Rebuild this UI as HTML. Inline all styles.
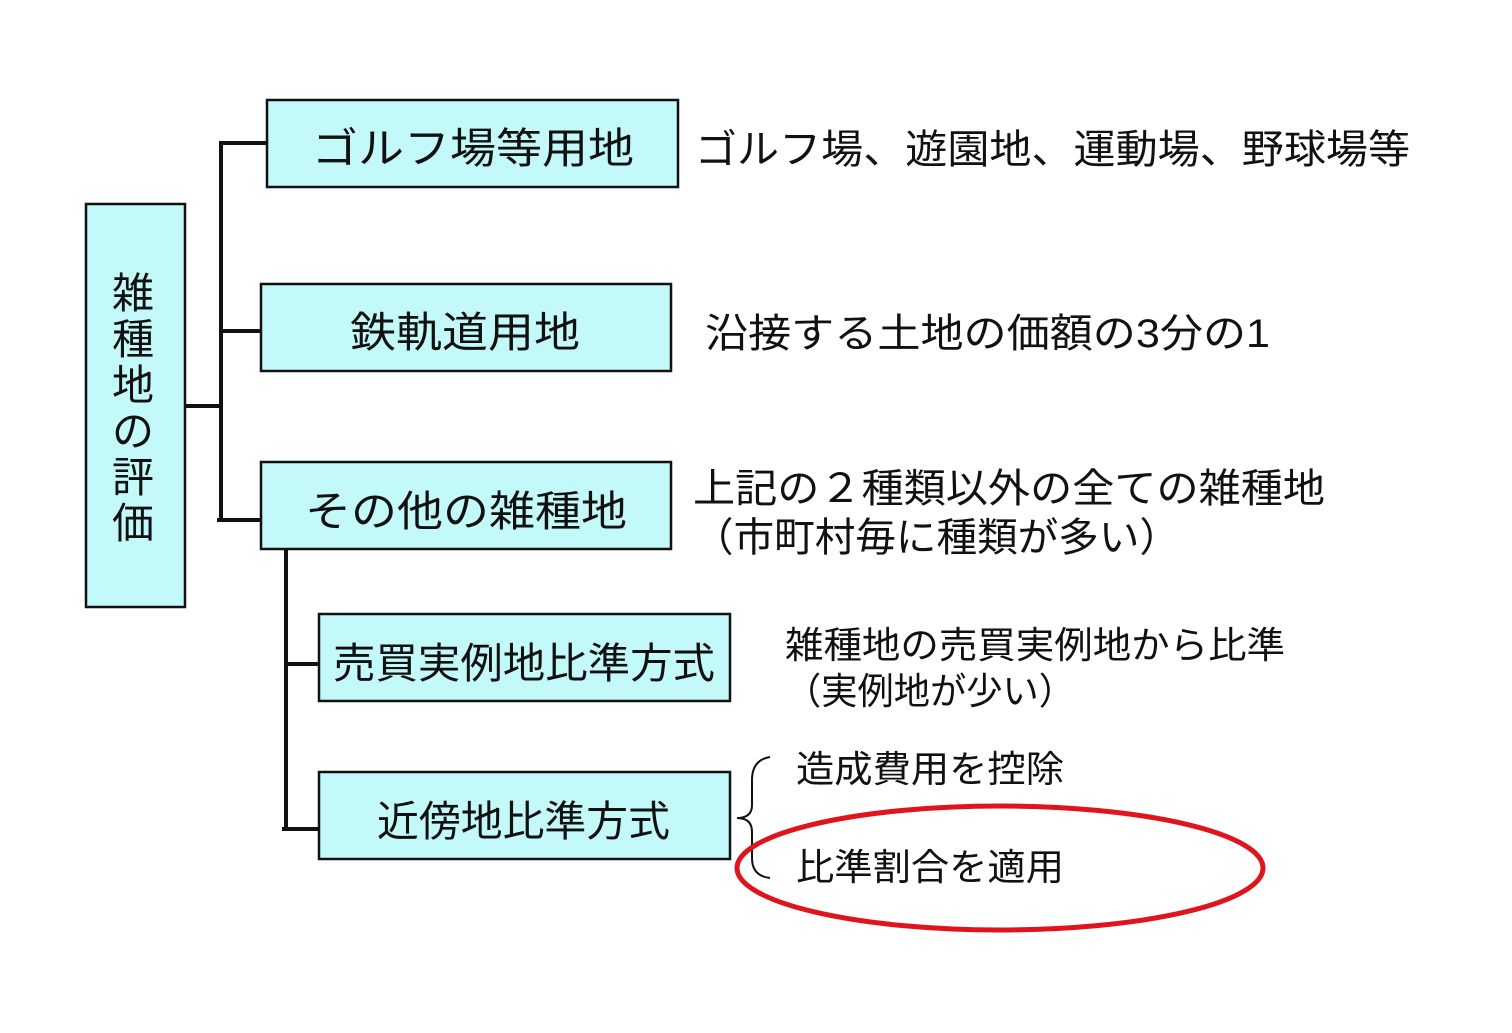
<!DOCTYPE html>
<html><head><meta charset="utf-8"><style>
html,body{margin:0;padding:0;background:#fff;}
svg text{font-family:"Liberation Sans","Noto Sans CJK JP",sans-serif;fill:#111;}
</style></head><body>
<svg width="1512" height="1028" viewBox="0 0 1512 1028" xmlns="http://www.w3.org/2000/svg">
<g fill="#c4f9f9" stroke="#111" stroke-width="2.5">
<rect x="86" y="204" width="99" height="403"/>
<rect x="267" y="100" width="411" height="87"/>
<rect x="261" y="284" width="410" height="87"/>
<rect x="261" y="462" width="410" height="87"/>
<rect x="319" y="614" width="411" height="87"/>
<rect x="319" y="772" width="411" height="87"/>
</g>
<g stroke="#111" stroke-width="4" fill="none">
<line x1="221" y1="141" x2="221" y2="522"/>
<line x1="185" y1="406" x2="221" y2="406"/>
<line x1="219" y1="143" x2="267" y2="143"/>
<line x1="219" y1="331" x2="261" y2="331"/>
<line x1="217" y1="520" x2="261" y2="520"/>
<line x1="286" y1="549" x2="286" y2="831"/>
<line x1="286" y1="664" x2="319" y2="664"/>
<line x1="282" y1="829" x2="319" y2="829"/>
</g>
<path d="M770 757 Q752 760 752 780 L752 805 Q752 818 737 818 Q752 818 752 832 L752 858 Q752 876 770 878" stroke="#111" stroke-width="2" fill="none"/>
<ellipse cx="1000" cy="868" rx="263" ry="62" fill="none" stroke="#e0141c" stroke-width="5"/>
<g font-size="42" text-anchor="middle">
<text x="133" y="308">雑</text>
<text x="133" y="354">種</text>
<text x="133" y="400">地</text>
<text x="133" y="446">の</text>
<text x="133" y="492">評</text>
<text x="133" y="538">価</text>
</g>
<g font-size="42">
<text x="312" y="163" textLength="322" lengthAdjust="spacingAndGlyphs">ゴルフ場等用地</text>
<text x="350" y="347" textLength="230" lengthAdjust="spacingAndGlyphs">鉄軌道用地</text>
<text x="305" y="526" textLength="322" lengthAdjust="spacingAndGlyphs">その他の雑種地</text>
<text x="333" y="678" textLength="382" lengthAdjust="spacingAndGlyphs">売買実例地比準方式</text>
<text x="377" y="836" textLength="293" lengthAdjust="spacingAndGlyphs">近傍地比準方式</text>
</g>
<g font-size="40">
<text x="695" y="163" textLength="715" lengthAdjust="spacingAndGlyphs">ゴルフ場、遊園地、運動場、野球場等</text>
<text x="705" y="347" textLength="565" lengthAdjust="spacingAndGlyphs">沿接する土地の価額の3分の1</text>
<text x="693" y="502" textLength="632" lengthAdjust="spacingAndGlyphs">上記の２種類以外の全ての雑種地</text>
<text x="693" y="551" textLength="487" lengthAdjust="spacingAndGlyphs">（市町村毎に種類が多い）</text>
</g>
<g font-size="37">
<text x="785" y="658" textLength="500" lengthAdjust="spacingAndGlyphs">雑種地の売買実例地から比準</text>
<text x="785" y="704" textLength="290" lengthAdjust="spacingAndGlyphs">（実例地が少い）</text>
<text x="796" y="782" textLength="268" lengthAdjust="spacingAndGlyphs">造成費用を控除</text>
<text x="796" y="880" textLength="268" lengthAdjust="spacingAndGlyphs">比準割合を適用</text>
</g>
</svg>
</body></html>
